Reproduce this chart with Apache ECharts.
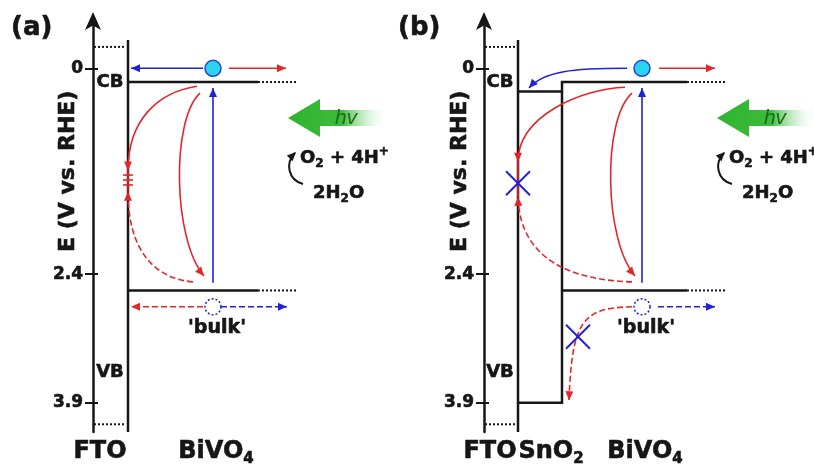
<!DOCTYPE html>
<html><head><meta charset="utf-8">
<script src="https://cdn.jsdelivr.net/npm/echarts@6/dist/echarts.min.js"></script>
<style>html,body{margin:0;padding:0;background:#fff}#c{width:814px;height:470px}</style>
</head><body><div id="c"></div>
<script>
// ---------------- data ----------------
const eTicks = [0, 2.4, 3.9];                 // E (V vs. RHE) tick values
const layersA = ['FTO', 'BiVO4'];
const layersB = ['FTO', 'SnO2', 'BiVO4'];
const bivo4Bands = [0.16, 2.59];              // BiVO4 CB, VB (as drawn)
const sno2Bands = [0.27, 3.90];               // SnO2 CB, VB (as drawn)
const ftoLevels = [-0.25, 4.15];              // FTO dotted levels
const carrierE = [0, 2.78];                   // photo-electron, hole levels
const axisTitle = 'E (V vs. RHE)';

// ---------------- style / layout ----------------
const RED = '#e3262a', BLUE = '#1f22d6', BLACK = '#161616', FONT = '"DejaVu Sans", sans-serif';
const E_MIN = -0.54, E_MAX = 4.24, LINE_TOP = -0.33;
const labelXA = [7, 123], labelXB = [6, 67, 161];
const HEAVY = 0.6;

function fmtChem(s) { return s.replace(/(\D)(\d)/g, '$1{s|$2}'); }

const specA = {
  arrows: [
    {pts: [[110, carrierE[0]], [38, carrierE[0]]], c: BLUE},
    {pts: [[136, carrierE[0]], [193, carrierE[0]]], c: RED},
    {pts: [[120, 2.50], [120, 0.23]], c: BLUE},
    {pts: [[110, carrierE[1]], [38, carrierE[1]]], c: RED, dash: [6, 3]},
    {pts: [[128, carrierE[1]], [194, carrierE[1]]], c: BLUE, dash: [6, 3]},
    {pts: [[104, 0.21], [65, 0.28], [35, 0.6], [35, 1.19]], c: RED},
    {pts: [[107, 0.29], [78, 0.6], [80, 2.0], [111, 2.42]], c: RED},
    {pts: [[100, 2.49], [60, 2.45], [35, 2.1], [35, 1.44]], c: RED, dash: [6, 3]},
    {pts: [[35, 1.19], [35, 1.44]], c: RED, noHead: true}
  ],
  traps: [1.244, 1.302, 1.36], trapX: 35,
  crosses: [],
  carrierX: 120, bulkX: 124, cbX: 17, hv: [195, 0.58], nameX: -25
};
const specB = {
  arrows: [
    {pts: [[143, carrierE[0]], [90, 0], [60, 0.03], [45, 0.23]], c: BLUE},
    {pts: [[175, carrierE[0]], [231, carrierE[0]]], c: RED},
    {pts: [[158, 2.50], [158, 0.23]], c: BLUE},
    {pts: [[174, carrierE[1]], [231, carrierE[1]]], c: BLUE, dash: [6, 3]},
    {pts: [[148, carrierE[1]], [98, 2.79], [88, 2.95], [85, 3.87]], c: RED, dash: [6, 3]},
    {pts: [[141, 0.22], [98, 0.24], [34, 0.55], [34, 1.09]], c: RED},
    {pts: [[148, 0.29], [118, 0.6], [120, 2.0], [151, 2.42]], c: RED},
    {pts: [[148, 2.49], [90, 2.47], [36, 2.25], [34, 1.50]], c: RED, dash: [6, 3]},
    {pts: [[34, 1.09], [34, 1.50]], c: RED, noHead: true}
  ],
  traps: [], trapX: 34,
  crosses: [[34, 1.34], [94, 3.13]],
  carrierX: 158, bulkX: 162, cbX: 16, hv: [233, 0.58], nameX: -24
};

function makeRender(spec) {
  return function (params, api) {
    const P = (x, e) => api.coord([x, e]);
    const kids = [];
    function head(tip, from, color) {
      const a = Math.atan2(tip[1] - from[1], tip[0] - from[0]);
      const L = 9, W = 4;
      const bx = tip[0] - L * Math.cos(a), by = tip[1] - L * Math.sin(a);
      const nx = -Math.sin(a) * W, ny = Math.cos(a) * W;
      kids.push({type: 'polygon', z2: 3, shape: {points: [tip, [bx + nx, by + ny], [bx - nx, by - ny]]}, style: {fill: color}});
    }
    function txt(text, x, y, font, extra) {
      kids.push({type: 'text', z2: 6, style: Object.assign({text, x, y, font, fill: BLACK, stroke: BLACK, lineWidth: HEAVY, align: 'center', verticalAlign: 'middle'}, extra || {})});
    }
    spec.arrows.forEach(a => {
      const p = a.pts.map(q => P(q[0], q[1]));
      const st = {stroke: a.c, lineWidth: 1.6, fill: null, lineDash: a.dash || null};
      if (p.length === 2) kids.push({type: 'line', shape: {x1: p[0][0], y1: p[0][1], x2: p[1][0], y2: p[1][1]}, style: st});
      else kids.push({type: 'bezierCurve', shape: {x1: p[0][0], y1: p[0][1], cpx1: p[1][0], cpy1: p[1][1], cpx2: p[2][0], cpy2: p[2][1], x2: p[3][0], y2: p[3][1]}, style: st});
      if (!a.noHead) head(p[p.length - 1], p[p.length - 2], a.c);
    });
    spec.traps.forEach(e => {
      const c = P(spec.trapX, e);
      kids.push({type: 'line', shape: {x1: c[0] - 5, y1: c[1], x2: c[0] + 5, y2: c[1]}, style: {stroke: RED, lineWidth: 1.6}});
    });
    spec.crosses.forEach(q => {
      const c = P(q[0], q[1]), r = 12;
      kids.push({type: 'line', z2: 4, shape: {x1: c[0] - r, y1: c[1] - r, x2: c[0] + r, y2: c[1] + r}, style: {stroke: BLUE, lineWidth: 2}});
      kids.push({type: 'line', z2: 4, shape: {x1: c[0] - r, y1: c[1] + r, x2: c[0] + r, y2: c[1] - r}, style: {stroke: BLUE, lineWidth: 2}});
    });
    const el = P(spec.carrierX, carrierE[0]), ho = P(spec.carrierX, carrierE[1]);
    kids.push({type: 'circle', z2: 5, shape: {cx: el[0], cy: el[1], r: 8}, style: {fill: '#2bd3f0', stroke: '#2346c8', lineWidth: 1.5}});
    kids.push({type: 'circle', z2: 5, shape: {cx: ho[0], cy: ho[1], r: 8}, style: {fill: '#fff', stroke: BLUE, lineWidth: 1.5, lineDash: [2, 2]}});
    const bf = 'bold 19px ' + FONT, lf = 'bold 18px ' + FONT;
    const bk = P(spec.bulkX, 3.03);
    txt("'bulk'", bk[0], bk[1], bf);
    const cb = P(spec.cbX, bivo4Bands[0]), vb = P(spec.cbX, 3.54);
    txt('CB', cb[0], cb[1], lf);
    txt('VB', vb[0], vb[1], lf);
    const nm = P(spec.nameX, 1.2);
    kids.push({type: 'text', x: nm[0], y: nm[1], rotation: Math.PI / 2, style: {text: axisTitle, x: 0, y: 0, font: 'bold 22px ' + FONT, fill: BLACK, stroke: BLACK, lineWidth: HEAVY, align: 'center', verticalAlign: 'middle'}});
    // light arrow
    const t = P(spec.hv[0], spec.hv[1]);
    const pts = [[0, 0], [32, -19], [32, -8], [108, -8], [108, 8], [32, 8], [32, 19]].map(q => [t[0] + q[0], t[1] + q[1]]);
    kids.push({type: 'polygon', shape: {points: pts}, style: {fill: new echarts.graphic.LinearGradient(0, 0, 1, 0, [
      {offset: 0, color: '#2fb32f'}, {offset: 0.5, color: '#3cbc3c'}, {offset: 0.93, color: 'rgba(255,255,255,0)'}])}});
    kids.push({type: 'text', style: {text: 'hv', x: t[0] + 58, y: t[1], font: 'italic 21px "Liberation Sans", sans-serif', fill: '#1c6b1c', align: 'center', verticalAlign: 'middle'}});
    const rs = {fill: BLACK, stroke: BLACK, lineWidth: HEAVY};
    const rich = {
      m: Object.assign({font: 'bold 18px ' + FONT, lineHeight: 24}, rs),
      s: Object.assign({font: 'bold 12px ' + FONT, verticalAlign: 'bottom', lineHeight: 12}, rs),
      p: Object.assign({font: 'bold 12px ' + FONT, verticalAlign: 'top', lineHeight: 12}, rs)
    };
    kids.push({type: 'text', style: {text: '{m|O}{s|2}{m| + 4H}{p|+}', x: t[0] + 12, y: t[1] + 40, align: 'left', verticalAlign: 'middle', rich}});
    kids.push({type: 'text', style: {text: '{m|2H}{s|2}{m|O}', x: t[0] + 25, y: t[1] + 75, align: 'left', verticalAlign: 'middle', rich}});
    kids.push({type: 'bezierCurve', shape: {x1: t[0] + 15, y1: t[1] + 66, cpx1: t[0], cpy1: t[1] + 62, cpx2: t[0] - 3, cpy2: t[1] + 45, x2: t[0] + 7, y2: t[1] + 35}, style: {stroke: BLACK, lineWidth: 2, fill: null}});
    head([t[0] + 8, t[1] + 34], [t[0] - 3, t[1] + 45], BLACK);
    return {type: 'group', children: kids};
  };
}

// ---------------- chart ----------------
const heavyText = {textBorderColor: BLACK, textBorderWidth: HEAVY};
function yAxes(gi) {
  const base = {gridIndex: gi, type: 'value', inverse: true, min: E_MIN, max: E_MAX, position: 'left', splitLine: {show: false}};
  return [
    Object.assign({}, base, {
      axisLine: {show: true, lineStyle: {color: BLACK, width: 2.5}, symbol: ['none', 'arrow'], symbolSize: [12, 18], symbolOffset: [0, 10]},
      axisTick: {show: true, customValues: eTicks, length: 8, lineStyle: {color: BLACK, width: 2}},
      axisLabel: Object.assign({show: true, customValues: eTicks, margin: 10, formatter: v => String(v), fontSize: 17, fontWeight: 'bold', fontFamily: FONT, color: BLACK}, heavyText)
    }),
    Object.assign({}, base, {
      axisLine: {show: false},
      axisTick: {show: true, inside: true, customValues: eTicks, length: 5, lineStyle: {color: BLACK, width: 2}},
      axisLabel: {show: false}
    })
  ];
}
function xAxis(gi, max, pos, names) {
  return {
    gridIndex: gi, type: 'value', min: 0, max: max, splitLine: {show: false},
    axisLine: {show: false}, axisTick: {show: false},
    axisLabel: Object.assign({show: true, customValues: pos, margin: 5, formatter: v => fmtChem(names[pos.indexOf(v)] || ''),
      fontSize: 24, fontWeight: 'bold', fontFamily: FONT, color: BLACK, lineHeight: 30,
      rich: {s: Object.assign({fontSize: 15, fontWeight: 'bold', fontFamily: FONT, color: BLACK, verticalAlign: 'bottom', lineHeight: 15}, heavyText)}}, heavyText)
  };
}
function seg(gi, data, dotted) {
  return {type: 'line', xAxisIndex: gi, yAxisIndex: gi * 2, data: data, symbol: 'none', silent: true,
    lineStyle: {color: BLACK, width: dotted ? 2 : 2.5, type: dotted ? [2, 2] : 'solid', cap: 'butt', join: 'miter'}};
}

const series = [
  // panel (a)
  seg(0, [[35, LINE_TOP], [35, E_MAX]]),
  seg(0, [[35, bivo4Bands[0]], [165, bivo4Bands[0]]]),
  seg(0, [[165, bivo4Bands[0]], [205, bivo4Bands[0]]], true),
  seg(0, [[35, bivo4Bands[1]], [165, bivo4Bands[1]]]),
  seg(0, [[165, bivo4Bands[1]], [205, bivo4Bands[1]]], true),
  seg(0, [[1, ftoLevels[0]], [33, ftoLevels[0]]], true),
  seg(0, [[1, ftoLevels[1]], [33, ftoLevels[1]]], true),
  // panel (b)
  seg(1, [[34, LINE_TOP], [34, E_MAX]]),
  seg(1, [[34, sno2Bands[0]], [78, sno2Bands[0]]]),
  seg(1, [[203, bivo4Bands[0]], [78, bivo4Bands[0]], [78, sno2Bands[1]], [34, sno2Bands[1]]]),
  seg(1, [[203, bivo4Bands[0]], [242, bivo4Bands[0]]], true),
  seg(1, [[78, bivo4Bands[1]], [203, bivo4Bands[1]]]),
  seg(1, [[203, bivo4Bands[1]], [242, bivo4Bands[1]]], true),
  seg(1, [[1, ftoLevels[0]], [32, ftoLevels[0]]], true),
  seg(1, [[1, ftoLevels[1]], [32, ftoLevels[1]]], true),
  {type: 'custom', xAxisIndex: 0, yAxisIndex: 0, z: 5, silent: true, clip: false, data: [[0, 0]], renderItem: makeRender(specA)},
  {type: 'custom', xAxisIndex: 1, yAxisIndex: 2, z: 5, silent: true, clip: false, data: [[0, 0]], renderItem: makeRender(specB)}
];

const chart = echarts.init(document.getElementById('c'), null, {renderer: 'canvas'});
chart.setOption({
  animation: false,
  backgroundColor: '#fff',
  title: [
    {text: '(a)', left: 6, top: 10, textStyle: Object.assign({fontSize: 26, fontWeight: 'bold', fontFamily: FONT, color: BLACK}, heavyText)},
    {text: '(b)', left: 393, top: 10, textStyle: Object.assign({fontSize: 26, fontWeight: 'bold', fontFamily: FONT, color: BLACK}, heavyText)}
  ],
  grid: [
    {left: 93, top: 22, width: 310, height: 410, outerBoundsMode: 'none'},
    {left: 484, top: 22, width: 330, height: 410, outerBoundsMode: 'none'}
  ],
  xAxis: [xAxis(0, 310, labelXA, layersA), xAxis(1, 330, labelXB, layersB)],
  yAxis: yAxes(0).concat(yAxes(1)).map((a, i) => Object.assign(a, {gridIndex: i < 2 ? 0 : 1})),
  series: series
});
</script>
</body></html>
